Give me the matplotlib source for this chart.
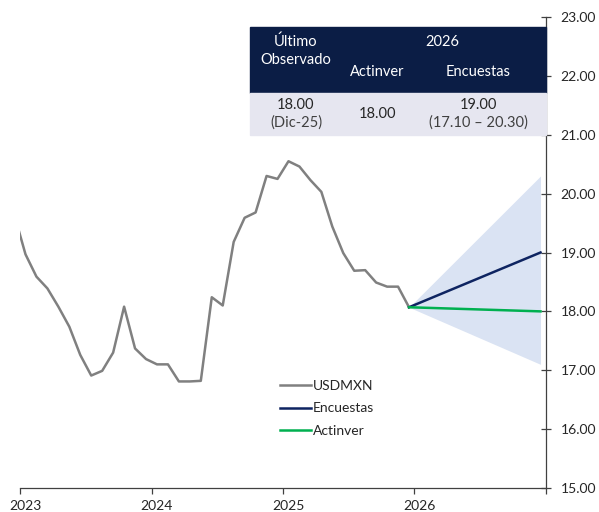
import matplotlib
matplotlib.use("Agg")
import matplotlib.pyplot as plt
from matplotlib.patches import Rectangle

plt.rcParams['font.family'] = ['Lato', 'DejaVu Sans']

# monthly USDMXN, mid-month positions (month index from Jan 2023), Dec-22 .. Dec-25
usd_months = [m + 0.5 for m in range(-1, 36)]
usdmxn = [19.63, 18.97, 18.59, 18.39, 18.08, 17.74, 17.26, 16.91, 16.99, 17.30, 18.08, 17.37,
          17.19, 17.10, 17.10, 16.81, 16.81, 16.82, 18.24, 18.10, 19.18, 19.59, 19.68, 20.30,
          20.25, 20.55, 20.46, 20.23, 20.03, 19.44, 18.99, 18.69, 18.70, 18.49, 18.42, 18.42,
          18.07]

# forecasts Dec-25 -> Dec-26
fc_months = [35.5, 47.5]
encuestas = [18.07, 19.00]
actinver = [18.07, 18.00]
band_low = [18.07, 17.10]
band_high = [18.07, 20.30]

year_labels = ['2023', '2024', '2025', '2026']
y_ticks = [15, 16, 17, 18, 19, 20, 21, 22, 23]

# table texts
hdr_col1 = ['Último', 'Observado']
hdr_year = '2026'
hdr_cols = ['Actinver', 'Encuestas']
row_obs = ['18.00', '(Dic-25)']
row_act = '18.00'
row_enc = ['19.00', '(17.10 – 20.30)']

W, H = 599, 512
fig = plt.figure(figsize=(W / 100, H / 100), dpi=100)
ax = fig.add_axes([20 / W, 24 / H, 526 / W, 471 / H])

ax.fill_between(fc_months, band_low, band_high, color='#DAE3F3', lw=0, zorder=1)
ax.plot(usd_months, usdmxn, color='#808080', lw=1.8, label='USDMXN', zorder=3)
ax.plot(fc_months, encuestas, color='#0E2461', lw=1.8, label='Encuestas', zorder=4)
ax.plot(fc_months, actinver, color='#00B050', lw=1.8, label='Actinver', zorder=5)

ax.set_xlim(0, 48)
ax.set_ylim(15, 23)

axc = '#404040'
for s in ['left', 'top']:
    ax.spines[s].set_visible(False)
for s in ['right', 'bottom']:
    ax.spines[s].set_color(axc)
    ax.spines[s].set_linewidth(0.9)

ax.yaxis.tick_right()
ax.set_yticks(y_ticks)
ax.set_yticklabels([f'{v:.2f}' for v in y_ticks])
ax.tick_params(axis='y', direction='inout', length=7, width=0.9, color=axc,
               pad=7, labelsize=10, labelcolor='#262626')

ax.set_xticks([0, 12, 24, 36, 48])
ax.set_xticklabels([])
ax.set_xticks([0.5, 12.5, 24.5, 36.5], minor=True)
ax.set_xticklabels(year_labels, minor=True)
ax.tick_params(axis='x', which='major', direction='out', length=4, width=0.9, color=axc)
ax.tick_params(axis='x', which='minor', length=0, pad=9, labelsize=10, labelcolor='#262626')

leg = ax.legend(loc='upper left', bbox_to_anchor=(273 / W, 1 - 373 / H),
                bbox_transform=fig.transFigure, frameon=False, fontsize=10,
                handlelength=2.2, handletextpad=0.15, labelspacing=0.75, borderpad=0)
for t in leg.get_texts():
    t.set_color('#262626')


def fx(x):
    return x / W


def fy(y):
    return 1 - y / H


navy = '#0B1D45'
light = '#E6E6F0'
fig.patches.append(Rectangle((fx(250), fy(93)), fx(546) - fx(250), fy(27) - fy(93),
                             transform=fig.transFigure, color=navy, zorder=10))
fig.patches.append(Rectangle((fx(250), fy(135)), fx(546) - fx(250), fy(93) - fy(135),
                             transform=fig.transFigure, color=light, zorder=10))

tk = dict(ha='center', va='center', fontsize=10.5, zorder=11)
fig.text(fx(296), fy(42), hdr_col1[0], color='white', **tk)
fig.text(fx(296), fy(60), hdr_col1[1], color='white', **tk)
fig.text(fx(442), fy(42), hdr_year, color='white', **tk)
fig.text(fx(377), fy(72), hdr_cols[0], color='white', **tk)
fig.text(fx(478), fy(72), hdr_cols[1], color='white', **tk)
fig.text(fx(296), fy(105), row_obs[0], color='#262626', **tk)
fig.text(fx(296), fy(123), row_obs[1], color='#404040', **tk)
fig.text(fx(378), fy(114), row_act, color='#262626', **tk)
fig.text(fx(478), fy(105), row_enc[0], color='#262626', **tk)
fig.text(fx(478), fy(123), row_enc[1], color='#404040', **tk)

fig.savefig('out.png', dpi=100)
